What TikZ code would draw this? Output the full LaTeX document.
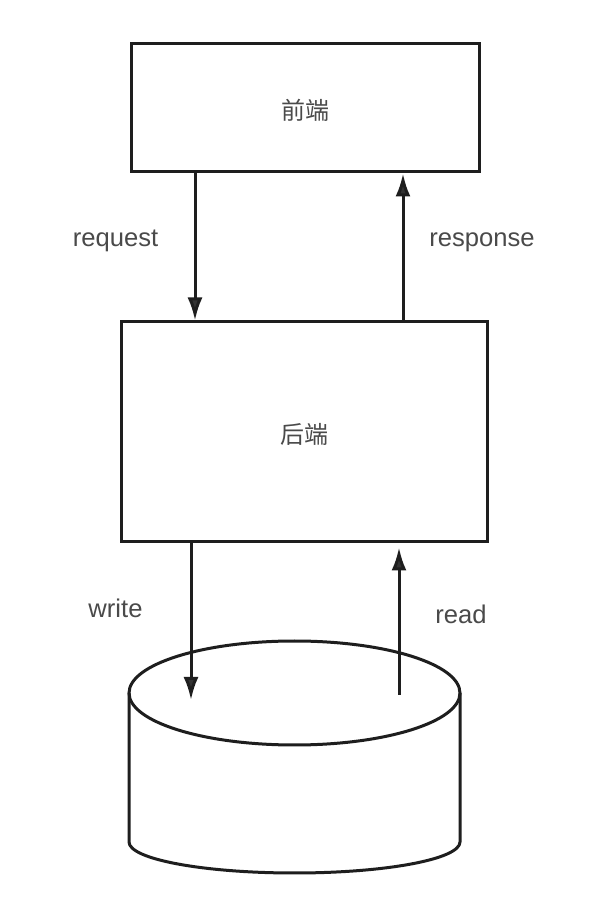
\documentclass[tikz,border=0pt]{standalone}
\usepackage{fontspec}
\setmainfont{Liberation Sans}
\newfontfamily\cjk{Noto Sans CJK SC}
\usepackage{tikz}
\usetikzlibrary{positioning}
\usetikzlibrary{arrows.meta}
\definecolor{linecol}{HTML}{1E1E1E}
\definecolor{tipcol}{HTML}{333333}
\definecolor{textcol}{HTML}{4A4A4A}
\tikzset{>={Latex[length=11.5pt,width=7.5pt,fill=tipcol]}}
\tikzset{box/.style={draw=linecol,line width=1.5pt,fill=white,inner sep=0pt}}
\tikzset{lbl/.style={text=textcol,font=\fontsize{12.8}{15}\selectfont,inner sep=0pt}}
\tikzset{cn/.style={text=textcol,font=\cjk\fontsize{12}{14}\selectfont}}

\begin{document}
\begin{tikzpicture}[x=0.5pt,y=0.5pt,line width=1.5pt,draw=linecol]
\useasboundingbox[fill=white] (0,0) rectangle (600,918);
\node[box,minimum width=174pt,minimum height=64pt] (front) at (305,810) {};
\node[cn] (fronttxt) at ([yshift=-1pt]front.center) {前端};
\node[box,minimum width=183pt,minimum height=110pt] (back) at (304,486) {};
\node[cn] (backtxt) at ([yshift=-1pt]back.center) {后端};
% database
\draw[linecol] (129,225) -- (129,76) arc[start angle=180,end angle=360,x radius=165.5,y radius=31] -- (460,225);
\draw[linecol] (294.5,225) ellipse[x radius=165.5,y radius=52];
\coordinate (dbw) at (191,218);
\coordinate (dbr) at (399,223);
% connectors
\draw[->,linecol] ([xshift=-55pt]front.south) -- ([xshift=-54.5pt]back.north);
\draw[->,linecol] ([xshift=49.5pt]back.north) -- ([xshift=49pt]front.south);
\draw[->,linecol] ([xshift=-56.5pt]back.south) -- (dbw);
\draw[->,linecol,shorten >=2pt] (dbr) -- ([xshift=47.5pt]back.south);
\node[lbl] (req) at (115.5,677) {request};
\node[lbl] (resp) at (482,676) {response};
\node[lbl] (wr) at (115.5,310) {write};
\node[lbl] (rd) at (461,304) {read};
\end{tikzpicture}
\end{document}
